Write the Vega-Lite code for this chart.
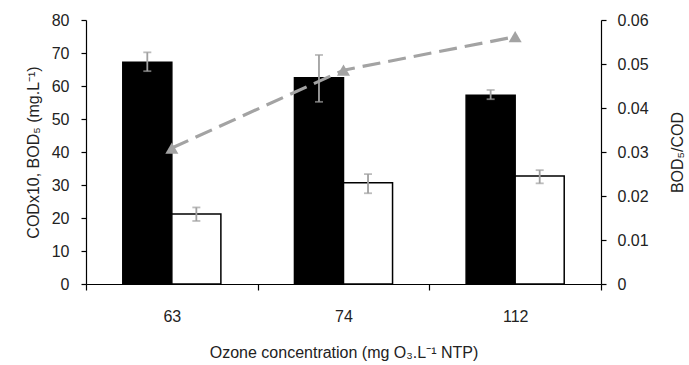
{
  "$schema": "https://vega.github.io/schema/vega-lite/v6.json",
  "width": 515,
  "height": 264,
  "autosize": "none",
  "padding": {"left": 86, "top": 20, "right": 88, "bottom": 81},
  "background": "white",
  "config": {
    "view": {"stroke": null},
    "font": "Liberation Sans",
    "axis": {"labelFont": "Liberation Sans", "titleFont": "Liberation Sans", "labelFontSize": 16, "titleFontSize": 16, "titleFontWeight": "normal", "labelColor": "#222", "titleColor": "#222", "domainColor": "#000", "tickColor": "#000", "grid": false, "domainWidth": 1.2, "tickWidth": 1.2, "labelOverlap": false}
  },
  "datasets": {
    "bars": [
      {"conc": "63", "series": "CODx10", "value": 67.2, "lo": 64.5, "hi": 70.2},
      {"conc": "63", "series": "BOD5", "value": 21.2, "lo": 19.1, "hi": 23.2},
      {"conc": "74", "series": "CODx10", "value": 62.5, "lo": 55.2, "hi": 69.4},
      {"conc": "74", "series": "BOD5", "value": 30.7, "lo": 27.5, "hi": 33.3},
      {"conc": "112", "series": "CODx10", "value": 57.2, "lo": 56.0, "hi": 58.8},
      {"conc": "112", "series": "BOD5", "value": 32.7, "lo": 30.5, "hi": 34.5}
    ],
    "ratio": [
      {"conc": "63", "ratio": 0.0309},
      {"conc": "74", "ratio": 0.0486},
      {"conc": "112", "ratio": 0.0562}
    ]
  },
  "encoding": {
    "x": {
      "field": "conc", "type": "nominal", "sort": ["63", "74", "112"],
      "scale": {"domain": ["63", "74", "112"], "paddingInner": 0, "paddingOuter": 0},
      "axis": {"title": "Ozone concentration (mg O₃.L⁻¹ NTP)", "labelAngle": 0, "tickBand": "extent", "tickSize": 6, "labelPadding": 18, "titlePadding": 20}
    }
  },
  "layer": [
    {
      "data": {"name": "bars"},
      "encoding": {
        "xOffset": {"field": "series", "type": "nominal", "sort": ["CODx10", "BOD5"], "scale": {"domain": ["CODx10", "BOD5"], "paddingOuter": 0.75, "paddingInner": 0}}
      },
      "layer": [
        {
          "mark": {"type": "bar", "stroke": "#000", "strokeWidth": 1.5},
          "encoding": {
            "y": {"field": "value", "type": "quantitative", "scale": {"domain": [0, 80]}, "axis": {"title": "CODx10, BOD₅ (mg.L⁻¹)", "values": [0, 10, 20, 30, 40, 50, 60, 70, 80], "tickSize": 5, "labelPadding": 12, "titlePadding": 10}},
            "fill": {"field": "series", "type": "nominal", "scale": {"domain": ["CODx10", "BOD5"], "range": ["#000000", "#ffffff"]}, "legend": null}
          }
        },
        {
          "mark": {"type": "rule", "color": "#a0a0a0", "strokeWidth": 1.8},
          "encoding": {
            "y": {"field": "lo", "type": "quantitative", "axis": {"title": "CODx10, BOD₅ (mg.L⁻¹)", "values": [0, 10, 20, 30, 40, 50, 60, 70, 80], "tickSize": 5, "labelPadding": 12, "titlePadding": 10}},
            "y2": {"field": "hi"}
          }
        },
        {
          "mark": {"type": "tick", "color": "#a0a0a0", "thickness": 1.8, "size": 8},
          "encoding": {"y": {"field": "lo", "type": "quantitative", "axis": {"title": "CODx10, BOD₅ (mg.L⁻¹)", "values": [0, 10, 20, 30, 40, 50, 60, 70, 80], "tickSize": 5, "labelPadding": 12, "titlePadding": 10}}}
        },
        {
          "mark": {"type": "tick", "color": "#a0a0a0", "thickness": 1.8, "size": 8},
          "encoding": {"y": {"field": "hi", "type": "quantitative", "axis": {"title": "CODx10, BOD₅ (mg.L⁻¹)", "values": [0, 10, 20, 30, 40, 50, 60, 70, 80], "tickSize": 5, "labelPadding": 12, "titlePadding": 10}}}
        }
      ]
    },
    {
      "data": {"name": "ratio"},
      "layer": [
        {
          "mark": {"type": "line", "color": "#a3a3a3", "strokeWidth": 3.2, "strokeDash": [18, 8]},
          "encoding": {
            "y": {"field": "ratio", "type": "quantitative", "scale": {"domain": [0, 0.06]}, "axis": {"orient": "right", "title": "BOD₅/COD", "titleAngle": 270, "titleBaseline": "top", "values": [0, 0.01, 0.02, 0.03, 0.04, 0.05, 0.06], "labelExpr": "datum.value == 0 ? '0' : format(datum.value, '.2f')", "tickSize": 5, "labelPadding": 11, "titlePadding": 21}}
          }
        },
        {
          "mark": {"type": "point", "shape": "triangle-up", "filled": true, "color": "#a3a3a3", "opacity": 1, "size": 170},
          "encoding": {
            "y": {"field": "ratio", "type": "quantitative", "axis": {"orient": "right", "title": "BOD₅/COD", "titleAngle": 270, "titleBaseline": "top", "values": [0, 0.01, 0.02, 0.03, 0.04, 0.05, 0.06], "labelExpr": "datum.value == 0 ? '0' : format(datum.value, '.2f')", "tickSize": 5, "labelPadding": 11, "titlePadding": 21}}
          }
        }
      ]
    }
  ],
  "resolve": {"scale": {"y": "independent"}}
}
